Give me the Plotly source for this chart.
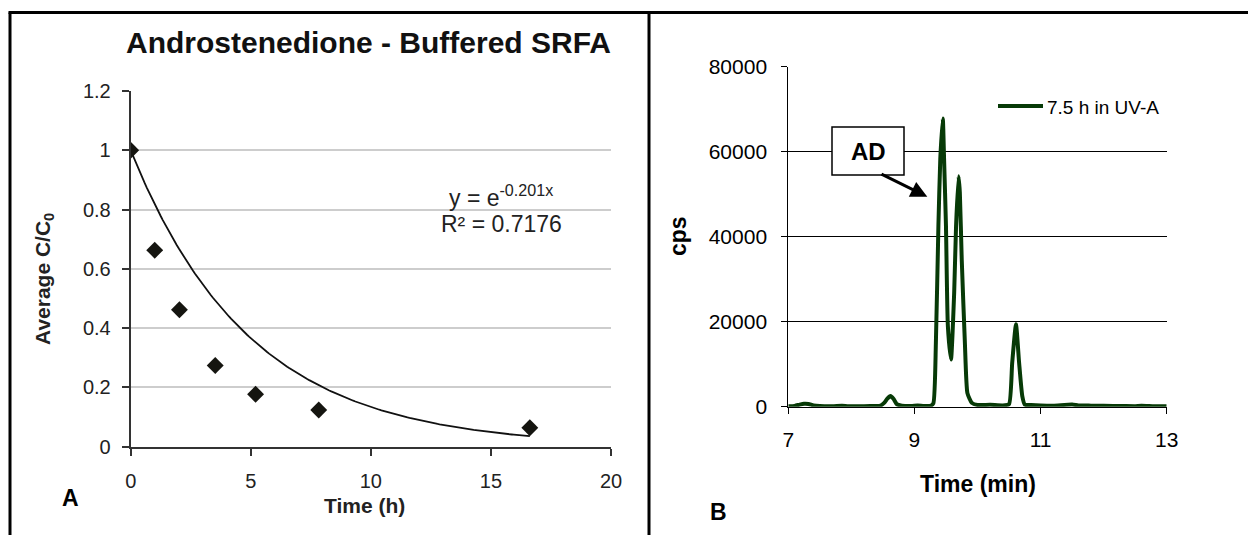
import numpy as np
import plotly.graph_objects as go

W, H = 1248, 535
FONT = "Liberation Sans, Arial, sans-serif"

# ---------------- Panel A data ----------------
time_h = [0.0, 1.0, 2.03, 3.52, 5.2, 7.83, 16.62]
avg_c_c0 = [1.0, 0.663, 0.462, 0.274, 0.177, 0.124, 0.064]
trend_k = -0.201          # y = e^(-0.201x), as printed on the chart
trend_x_end = 16.62
a_xticks = [0, 5, 10, 15, 20]
a_yticks = [0, 0.2, 0.4, 0.6, 0.8, 1.0, 1.2]
a_yticklabels = ["0", "0.2", "0.4", "0.6", "0.8", "1", "1.2"]

# ---------------- Panel B data ----------------
time_min = [7.00, 7.10, 7.18, 7.25, 7.32, 7.40, 7.50, 7.70, 7.85, 7.95, 8.10, 8.30,
            8.45, 8.52, 8.57, 8.62, 8.67, 8.72, 8.80, 8.95, 9.05, 9.15, 9.25, 9.30,
            9.34, 9.38, 9.41, 9.45, 9.47, 9.50, 9.53, 9.58, 9.63, 9.66, 9.70, 9.72,
            9.75, 9.80, 9.84, 9.91, 10.00, 10.20, 10.40, 10.50, 10.55, 10.61, 10.66,
            10.71, 10.75, 10.85, 11.00, 11.20, 11.50, 11.60, 11.80, 12.00, 12.30,
            12.50, 12.60, 12.80, 13.00]
cps = [100, 200, 500, 700, 650, 300, 150, 100, 250, 100, 120, 150,
       200, 900, 1900, 2500, 1800, 600, 250, 150, 300, 150, 200, 800,
       15000, 42500, 58300, 67800, 58300, 42500, 19000, 11100, 26800, 42500, 54200, 50400,
       34700, 15000, 3200, 900, 400, 450, 300, 600, 10300, 19400, 10300,
       2500, 500, 400, 300, 250, 500, 300, 250, 200, 150,
       120, 200, 100, 100]
b_xticks = [7, 9, 11, 13]
b_yticks = [0, 20000, 40000, 60000, 80000]
b_yticklabels = ["0", "20000", "40000", "60000", "80000"]
trace_name = "7.5 h in UV-A"
GREEN = "#073a07"


def px(x):
    return x / W


def py(y):
    return 1 - y / H


trend_x = np.linspace(0, trend_x_end, 200)
trend_y = np.exp(trend_k * trend_x)

fig = go.Figure()
fig.add_trace(go.Scatter(x=trend_x, y=trend_y, mode="lines",
                         line=dict(color="#111111", width=1.8),
                         xaxis="x", yaxis="y", showlegend=False, hoverinfo="skip"))
fig.add_trace(go.Scatter(x=time_h, y=avg_c_c0, mode="markers",
                         marker=dict(symbol="diamond", size=13, color="#151510"),
                         xaxis="x", yaxis="y", showlegend=False))
fig.add_trace(go.Scatter(x=time_min, y=cps, mode="lines", name=trace_name,
                         line=dict(color=GREEN, width=4, shape="spline", smoothing=0.5),
                         xaxis="x2", yaxis="y2", showlegend=False))

axA = dict(showline=True, linecolor="#333333", linewidth=2, ticks="outside",
           ticklen=7, tickcolor="#333333", tickwidth=1.5, zeroline=False,
           tickfont=dict(family=FONT, size=20, color="#222222"))
axB = dict(showline=True, linecolor="#000000", linewidth=1, ticks="outside",
           ticklen=6, tickcolor="#000000", tickwidth=1, zeroline=False,
           tickfont=dict(family=FONT, size=21, color="#000000"))

fig.update_layout(
    width=W, height=H, autosize=False,
    margin=dict(l=0, r=0, t=0, b=0, autoexpand=False),
    paper_bgcolor="white", plot_bgcolor="white",
    xaxis=dict(axA, domain=[px(130.7), px(611)], range=[0, 20],
               tickvals=a_xticks, showgrid=False, anchor="y", ticklabelstandoff=8),
    yaxis=dict(axA, domain=[py(446.7), py(91)], range=[0, 1.2],
               tickvals=a_yticks, ticktext=a_yticklabels, showgrid=True,
               gridcolor="#cdcdcd", gridwidth=1.5, anchor="x", ticklabelstandoff=7),
    xaxis2=dict(axB, domain=[px(788.3), px(1166.7)], range=[7, 13],
                tickvals=b_xticks, showgrid=False, anchor="y2", ticklabelstandoff=8),
    yaxis2=dict(axB, domain=[py(406.7), py(66.7)], range=[0, 80000],
                tickvals=b_yticks, ticktext=b_yticklabels, showgrid=True,
                gridcolor="#000000", gridwidth=1, anchor="x2", ticklabelstandoff=10),
)

shapes = [
    # frame
    dict(type="line", xref="paper", yref="paper", x0=px(10), x1=px(10), y0=py(535), y1=py(12.5),
         line=dict(color="black", width=3)),
    dict(type="line", xref="paper", yref="paper", x0=px(8.5), x1=px(1248), y0=py(12.5), y1=py(12.5),
         line=dict(color="black", width=3)),
    dict(type="line", xref="paper", yref="paper", x0=px(649), x1=px(649), y0=py(535), y1=py(12.5),
         line=dict(color="black", width=3)),
    # AD box
    dict(type="rect", xref="paper", yref="paper", x0=px(832), x1=px(904), y0=py(175), y1=py(127),
         fillcolor="white", line=dict(color="black", width=1.5), layer="above"),
    # legend sample line
    dict(type="line", xref="paper", yref="paper", x0=px(998), x1=px(1043), y0=py(106), y1=py(106),
         line=dict(color=GREEN, width=4)),
]
fig.update_layout(shapes=shapes)


def ann(text, x, y, size, bold=False, angle=0, xanchor="center", color="#000000"):
    t = f"<b>{text}</b>" if bold else text
    return dict(text=t, x=px(x), y=py(y), xref="paper", yref="paper", showarrow=False,
                xanchor=xanchor, yanchor="middle", textangle=angle,
                font=dict(family=FONT, size=size, color=color))


annotations = [
    ann("Androstenedione - Buffered SRFA", 368, 42, 30, bold=True, color="#111111"),
    ann("Average C/C<sub>0</sub>", 44, 279, 21, bold=True, angle=-90, color="#222222"),
    ann("Time (h)", 364, 505, 21, bold=True, color="#222222"),
    ann("A", 70, 498, 23, bold=True),
    dict(text="y = e<sup>-0.201x</sup>", x=15.4, y=0.846, xref="x", yref="y", showarrow=False,
         xanchor="center", yanchor="middle", font=dict(family=FONT, size=23, color="#222222")),
    dict(text="R² = 0.7176", x=15.43, y=0.752, xref="x", yref="y", showarrow=False,
         xanchor="center", yanchor="middle", font=dict(family=FONT, size=23, color="#222222")),
    ann("cps", 678, 236, 23, bold=True, angle=-90),
    ann("Time (min)", 978, 484, 23, bold=True),
    ann("B", 719, 512, 23, bold=True),
    ann("AD", 868, 151, 24, bold=True),
    ann(trace_name, 1045, 108, 19, xanchor="left"),
    # arrow
    dict(text="", x=px(927.3), y=py(196.7), xref="paper", yref="paper", showarrow=True,
         ax=880 - 927.3, ay=173.3 - 196.7, axref="pixel", ayref="pixel",
         arrowhead=2, arrowsize=1.1, arrowwidth=3, arrowcolor="black"),
]
fig.update_layout(annotations=annotations)

fig.write_html(
    "out.html",
    config={"displayModeBar": False},
    post_script=("document.body.style.margin='0';"
                 "document.body.style.overflow='hidden';"
                 "document.documentElement.style.overflow='hidden';"),
)
